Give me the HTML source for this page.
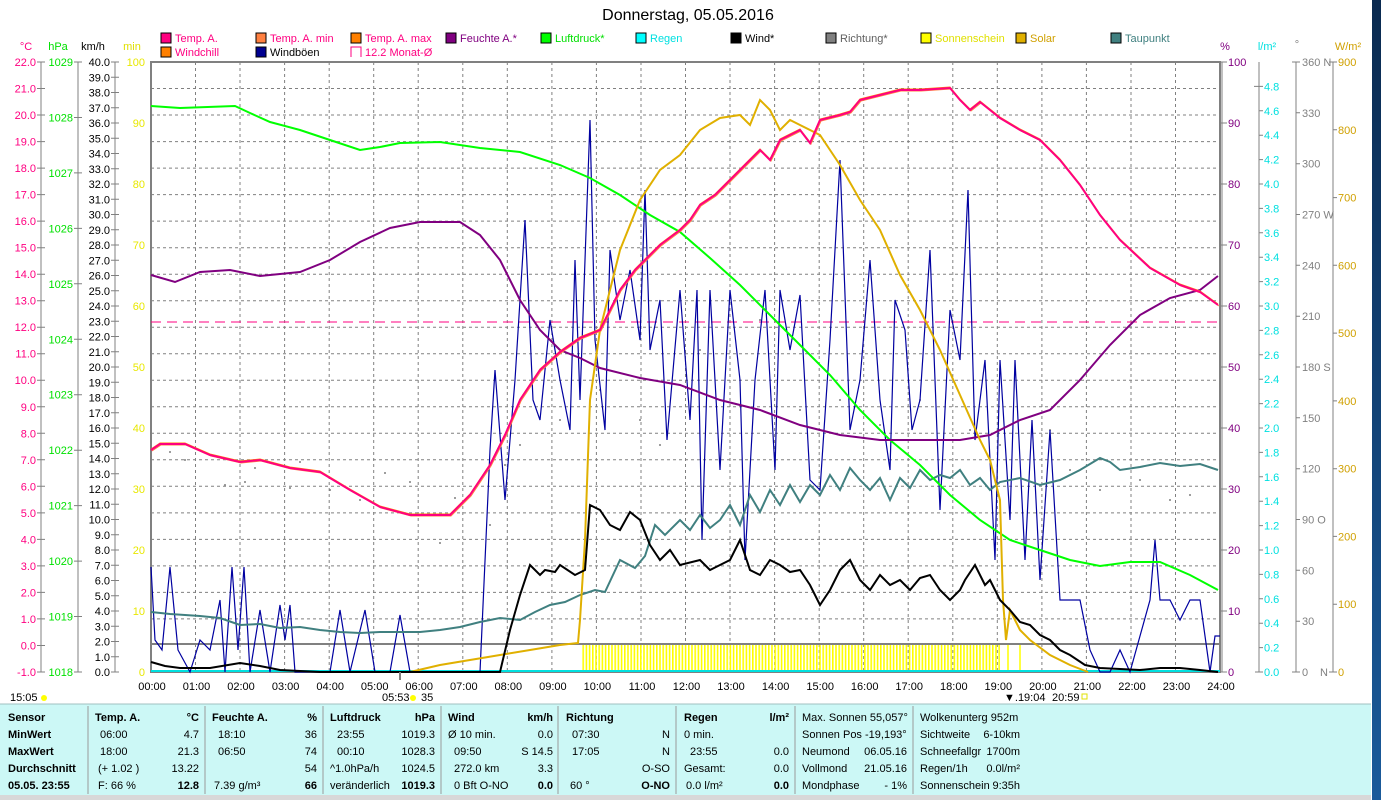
<!DOCTYPE html>
<html><head><meta charset="utf-8"><style>
html,body{margin:0;padding:0;background:#fff;width:1381px;height:800px;overflow:hidden}
svg{display:block;font-family:"Liberation Sans Narrow","Liberation Sans",sans-serif;font-size:11px}
</style></head><body>
<svg width="1381" height="800" viewBox="0 0 1381 800" xmlns="http://www.w3.org/2000/svg">
<defs>
<linearGradient id="bg" x1="0" y1="0" x2="0" y2="1"><stop offset="0" stop-color="#0a2a50"/><stop offset="1" stop-color="#1a5a9a"/></linearGradient>
<pattern id="sun" width="3.2" height="30" patternUnits="userSpaceOnUse"><rect x="0" y="0" width="1.6" height="30" fill="#ffff00"/></pattern>
</defs>
<rect x="0" y="0" width="1381" height="800" fill="#fff"/>
<rect x="1372" y="0" width="9" height="800" fill="url(#bg)"/>
<text x="688" y="20" font-size="16" text-anchor="middle" font-family="Liberation Sans,sans-serif">Donnerstag, 05.05.2016</text>

<!-- legend -->
<g font-size="11">
<rect x="161" y="33" width="10" height="10" fill="#ff0080" stroke="#000"/><text x="175" y="42" fill="#ff0080">Temp. A.</text>
<rect x="256" y="33" width="10" height="10" fill="#ff8040" stroke="#000"/><text x="270" y="42" fill="#ff0080">Temp. A. min</text>
<rect x="351" y="33" width="10" height="10" fill="#ff8000" stroke="#000"/><text x="365" y="42" fill="#ff0080">Temp. A. max</text>
<rect x="446" y="33" width="10" height="10" fill="#800080" stroke="#000"/><text x="460" y="42" fill="#800080">Feuchte A.*</text>
<rect x="541" y="33" width="10" height="10" fill="#00ff00" stroke="#000"/><text x="555" y="42" fill="#00e000">Luftdruck*</text>
<rect x="636" y="33" width="10" height="10" fill="#00ffff" stroke="#000"/><text x="650" y="42" fill="#00e0e0">Regen</text>
<rect x="731" y="33" width="10" height="10" fill="#000" stroke="#000"/><text x="745" y="42" fill="#000">Wind*</text>
<rect x="826" y="33" width="10" height="10" fill="#808080" stroke="#000"/><text x="840" y="42" fill="#606060">Richtung*</text>
<rect x="921" y="33" width="10" height="10" fill="#ffff00" stroke="#000"/><text x="935" y="42" fill="#e0e000">Sonnenschein</text>
<rect x="1016" y="33" width="10" height="10" fill="#e0b000" stroke="#000"/><text x="1030" y="42" fill="#d0a000">Solar</text>
<rect x="1111" y="33" width="10" height="10" fill="#408080" stroke="#000"/><text x="1125" y="42" fill="#408080">Taupunkt</text>
<rect x="161" y="47" width="10" height="10" fill="#ff8000" stroke="#000"/><text x="175" y="56" fill="#ff0080">Windchill</text>
<rect x="256" y="47" width="10" height="10" fill="#000090" stroke="#000"/><text x="270" y="56" fill="#000">Windböen</text>
<path d="M351 57 V47 H361 V57" fill="none" stroke="#ff0080"/><text x="365" y="56" fill="#ff0080">12.2 Monat-Ø</text>
</g>

<!-- axis headers -->
<text x="26" y="50" fill="#ff0080" text-anchor="middle">°C</text>
<text x="58" y="50" fill="#00e000" text-anchor="middle">hPa</text>
<text x="93" y="50" fill="#000" text-anchor="middle">km/h</text>
<text x="132" y="50" fill="#e0e000" text-anchor="middle">min</text>
<text x="1225" y="50" fill="#800080" text-anchor="middle">%</text>
<text x="1267" y="50" fill="#00e0e0" text-anchor="middle">l/m²</text>
<text x="1297" y="48" fill="#808080" text-anchor="middle">°</text>
<text x="1348" y="50" fill="#d0a000" text-anchor="middle">W/m²</text>

<!-- left axes lines -->
<g stroke="#808080" fill="none">
<path d="M41 62V672 M78 62V672 M115 62V672 M1259 62V672 M1296 62V672 M1333 62V672"/>
</g>

<!-- grid -->
<g stroke="#808080" stroke-dasharray="3,3" stroke-width="1">
<path d="M151 88.5H1220M151 115H1220M151 141.6H1220M151 168.1H1220M151 194.6H1220M151 221.1H1220M151 247.7H1220M151 274.2H1220M151 300.7H1220M151 327.2H1220M151 353.7H1220M151 380.2H1220M151 406.8H1220M151 433.3H1220M151 459.8H1220M151 486.3H1220M151 512.9H1220M151 539.4H1220M151 565.9H1220M151 592.4H1220M151 618.9H1220"/>
<path d="M195.5 62V672M240 62V672M284.6 62V672M329.2 62V672M373.7 62V672M418.2 62V672M462.8 62V672M507.3 62V672M551.9 62V672M596.4 62V672M641 62V672M685.5 62V672M730 62V672M774.6 62V672M819.2 62V672M863.7 62V672M908.2 62V672M952.8 62V672M997.3 62V672M1041.9 62V672M1086.4 62V672M1131 62V672M1175.5 62V672"/>
</g>
<rect x="151" y="62" width="1069" height="610" fill="none" stroke="#808080" stroke-width="2"/>
<line x1="1222" y1="62" x2="1222" y2="672" stroke="#808080" stroke-width="1"/>

<!-- °C labels -->
<g fill="#ff0080" text-anchor="end">
<text x="36" y="66">22.0</text><text x="36" y="92.5">21.0</text><text x="36" y="119">20.0</text><text x="36" y="145.6">19.0</text><text x="36" y="172.1">18.0</text><text x="36" y="198.6">17.0</text><text x="36" y="225.1">16.0</text><text x="36" y="251.7">15.0</text><text x="36" y="278.2">14.0</text><text x="36" y="304.7">13.0</text><text x="36" y="331.2">12.0</text><text x="36" y="357.7">11.0</text><text x="36" y="384.2">10.0</text><text x="36" y="410.8">9.0</text><text x="36" y="437.3">8.0</text><text x="36" y="463.8">7.0</text><text x="36" y="490.3">6.0</text><text x="36" y="516.9">5.0</text><text x="36" y="543.4">4.0</text><text x="36" y="569.9">3.0</text><text x="36" y="596.4">2.0</text><text x="36" y="622.9">1.0</text><text x="36" y="649.5">0.0</text><text x="36" y="676">-1.0</text>
</g>
<g stroke="#808080"><path d="M37 62h8M37 88.5h8M37 115h8M37 141.6h8M37 168.1h8M37 194.6h8M37 221.1h8M37 247.7h8M37 274.2h8M37 300.7h8M37 327.2h8M37 353.7h8M37 380.2h8M37 406.8h8M37 433.3h8M37 459.8h8M37 486.3h8M37 512.9h8M37 539.4h8M37 565.9h8M37 592.4h8M37 618.9h8M37 645.5h8M37 672h8"/></g>
<!-- hPa -->
<g fill="#00e000" text-anchor="end">
<text x="73" y="66">1029</text><text x="73" y="121.5">1028</text><text x="73" y="176.9">1027</text><text x="73" y="232.4">1026</text><text x="73" y="287.8">1025</text><text x="73" y="343.3">1024</text><text x="73" y="398.7">1023</text><text x="73" y="454.2">1022</text><text x="73" y="509.6">1021</text><text x="73" y="565.1">1020</text><text x="73" y="620.5">1019</text><text x="73" y="676">1018</text>
</g>
<g stroke="#808080"><path d="M74 62h8M74 117.5h8M74 172.9h8M74 228.4h8M74 283.8h8M74 339.3h8M74 394.7h8M74 450.2h8M74 505.6h8M74 561.1h8M74 616.5h8M74 672h8"/></g>
<!-- km/h -->
<g fill="#000" text-anchor="end">
<text x="110" y="66">40.0</text><text x="110" y="81.3">39.0</text><text x="110" y="96.5">38.0</text><text x="110" y="111.8">37.0</text><text x="110" y="127">36.0</text><text x="110" y="142.3">35.0</text><text x="110" y="157.5">34.0</text><text x="110" y="172.8">33.0</text><text x="110" y="188">32.0</text><text x="110" y="203.3">31.0</text><text x="110" y="218.5">30.0</text><text x="110" y="233.8">29.0</text><text x="110" y="249">28.0</text><text x="110" y="264.3">27.0</text><text x="110" y="279.5">26.0</text><text x="110" y="294.8">25.0</text><text x="110" y="310">24.0</text><text x="110" y="325.3">23.0</text><text x="110" y="340.5">22.0</text><text x="110" y="355.8">21.0</text><text x="110" y="371">20.0</text><text x="110" y="386.3">19.0</text><text x="110" y="401.5">18.0</text><text x="110" y="416.8">17.0</text><text x="110" y="432">16.0</text><text x="110" y="447.3">15.0</text><text x="110" y="462.5">14.0</text><text x="110" y="477.8">13.0</text><text x="110" y="493">12.0</text><text x="110" y="508.3">11.0</text><text x="110" y="523.5">10.0</text><text x="110" y="538.8">9.0</text><text x="110" y="554">8.0</text><text x="110" y="569.3">7.0</text><text x="110" y="584.5">6.0</text><text x="110" y="599.8">5.0</text><text x="110" y="615">4.0</text><text x="110" y="630.3">3.0</text><text x="110" y="645.5">2.0</text><text x="110" y="660.8">1.0</text><text x="110" y="676">0.0</text>
</g>
<g stroke="#808080"><path d="M111 62h8M111 77.3h8M111 92.5h8M111 107.8h8M111 123h8M111 138.3h8M111 153.5h8M111 168.8h8M111 184h8M111 199.3h8M111 214.5h8M111 229.8h8M111 245h8M111 260.3h8M111 275.5h8M111 290.8h8M111 306h8M111 321.3h8M111 336.5h8M111 351.8h8M111 367h8M111 382.3h8M111 397.5h8M111 412.8h8M111 428h8M111 443.3h8M111 458.5h8M111 473.8h8M111 489h8M111 504.3h8M111 519.5h8M111 534.8h8M111 550h8M111 565.3h8M111 580.5h8M111 595.8h8M111 611h8M111 626.3h8M111 641.5h8M111 656.8h8M111 672h8"/></g>
<!-- min -->
<g fill="#e8e800" text-anchor="end">
<text x="145" y="66">100</text><text x="145" y="127">90</text><text x="145" y="188">80</text><text x="145" y="249">70</text><text x="145" y="310">60</text><text x="145" y="371">50</text><text x="145" y="432">40</text><text x="145" y="493">30</text><text x="145" y="554">20</text><text x="145" y="615">10</text><text x="145" y="676">0</text>
</g>
<!-- % -->
<g fill="#800080">
<text x="1228" y="66">100</text><text x="1228" y="127">90</text><text x="1228" y="188">80</text><text x="1228" y="249">70</text><text x="1228" y="310">60</text><text x="1228" y="371">50</text><text x="1228" y="432">40</text><text x="1228" y="493">30</text><text x="1228" y="554">20</text><text x="1228" y="615">10</text><text x="1228" y="676">0</text>
</g>
<g stroke="#808080"><path d="M1220 62h7M1220 123h7M1220 184h7M1220 245h7M1220 306h7M1220 367h7M1220 428h7M1220 489h7M1220 550h7M1220 611h7M1220 672h7"/></g>
<!-- l/m2 -->
<g fill="#00e0e0">
<text x="1264" y="90.4">4.8</text><text x="1264" y="114.8">4.6</text><text x="1264" y="139.2">4.4</text><text x="1264" y="163.6">4.2</text><text x="1264" y="188">4.0</text><text x="1264" y="212.4">3.8</text><text x="1264" y="236.8">3.6</text><text x="1264" y="261.2">3.4</text><text x="1264" y="285.6">3.2</text><text x="1264" y="310">3.0</text><text x="1264" y="334.4">2.8</text><text x="1264" y="358.8">2.6</text><text x="1264" y="383.2">2.4</text><text x="1264" y="407.6">2.2</text><text x="1264" y="432">2.0</text><text x="1264" y="456.4">1.8</text><text x="1264" y="480.8">1.6</text><text x="1264" y="505.2">1.4</text><text x="1264" y="529.6">1.2</text><text x="1264" y="554">1.0</text><text x="1264" y="578.4">0.8</text><text x="1264" y="602.8">0.6</text><text x="1264" y="627.2">0.4</text><text x="1264" y="651.6">0.2</text><text x="1264" y="676">0.0</text>
</g>
<g stroke="#808080"><path d="M1254 86.4h9M1259 110.8h4M1259 135.2h4M1259 159.6h4M1259 184h4M1259 208.4h4M1259 232.8h4M1259 257.2h4M1259 281.6h4M1259 306h4M1259 330.4h4M1259 354.8h4M1259 379.2h4M1259 403.6h4M1259 428h4M1259 452.4h4M1259 476.8h4M1259 501.2h4M1259 525.6h4M1259 550h4M1259 574.4h4M1259 598.8h4M1259 623.2h4M1259 647.6h4M1255 672h8"/></g>
<!-- degrees -->
<g fill="#808080">
<text x="1302" y="66">360 N</text><text x="1302" y="116.8">330</text><text x="1302" y="167.7">300</text><text x="1302" y="218.5">270 W</text><text x="1302" y="269.3">240</text><text x="1302" y="320.2">210</text><text x="1302" y="371">180 S</text><text x="1302" y="421.8">150</text><text x="1302" y="472.7">120</text><text x="1302" y="523.5">90 O</text><text x="1302" y="574.3">60</text><text x="1302" y="625.2">30</text><text x="1302" y="676">0</text><text x="1320" y="676">N</text>
</g>
<g stroke="#808080"><path d="M1292 62h8M1296 112.8h4M1296 163.7h4M1296 214.5h4M1296 265.3h4M1296 316.2h4M1296 367h4M1296 417.8h4M1296 468.7h4M1296 519.5h4M1296 570.3h4M1296 621.2h4M1292 672h8"/></g>
<!-- W/m2 -->
<g fill="#d0a000">
<text x="1338" y="66">900</text><text x="1338" y="133.8">800</text><text x="1338" y="201.6">700</text><text x="1338" y="269.3">600</text><text x="1338" y="337.1">500</text><text x="1338" y="404.9">400</text><text x="1338" y="472.7">300</text><text x="1338" y="540.4">200</text><text x="1338" y="608.2">100</text><text x="1338" y="676">0</text>
</g>
<g stroke="#808080"><path d="M1329 62h8M1333 129.8h4M1333 197.6h4M1333 265.3h4M1333 333.1h4M1333 400.9h4M1333 468.7h4M1333 536.4h4M1333 604.2h4M1329 672h8"/></g>

<!-- plot contents -->
<rect x="582" y="645" width="418" height="27" fill="url(#sun)"/>
<path d="M1008 645V672M1020 645V672" stroke="#ffff00" stroke-width="1.5"/>
<line x1="151" y1="644" x2="1220" y2="644" stroke="#808080" stroke-width="2"/>
<line x1="151" y1="322" x2="1220" y2="322" stroke="#ff0080" stroke-dasharray="10,6"/>
<line x1="151" y1="671" x2="1220" y2="671" stroke="#00e0e0" stroke-width="2"/>

<!-- direction dots -->
<g fill="#808080">
<circle cx="170" cy="452" r="1"/><circle cx="185" cy="460" r="1"/><circle cx="225" cy="485" r="1"/><circle cx="245" cy="482" r="1"/><circle cx="255" cy="468" r="1"/><circle cx="290" cy="488" r="1"/><circle cx="300" cy="462" r="1"/><circle cx="330" cy="490" r="1"/><circle cx="360" cy="500" r="1"/><circle cx="385" cy="473" r="1"/><circle cx="410" cy="482" r="1"/><circle cx="440" cy="543" r="1"/><circle cx="455" cy="498" r="1"/><circle cx="490" cy="525" r="1"/><circle cx="505" cy="465" r="1"/><circle cx="520" cy="445" r="1"/><circle cx="560" cy="420" r="1"/><circle cx="600" cy="390" r="1"/><circle cx="640" cy="420" r="1"/><circle cx="660" cy="445" r="1"/><circle cx="700" cy="350" r="1"/><circle cx="760" cy="320" r="1"/><circle cx="800" cy="410" r="1"/><circle cx="840" cy="400" r="1"/><circle cx="880" cy="425" r="1"/><circle cx="920" cy="400" r="1"/><circle cx="970" cy="430" r="1"/><circle cx="1000" cy="445" r="1"/><circle cx="1050" cy="430" r="1"/><circle cx="1070" cy="470" r="1"/><circle cx="1100" cy="490" r="1"/><circle cx="1140" cy="480" r="1"/><circle cx="1170" cy="500" r="1"/><circle cx="1190" cy="495" r="1"/>
</g>

<!-- Windböen -->
<polyline fill="none" stroke="#0000a0" stroke-width="1.2" points="151,567 155,640 162,650 170,567 178,650 190,672 200,640 210,650 220,600 225,672 232,567 238,650 244,567 250,672 260,610 270,672 280,605 285,640 290,605 295,672 330,672 340,610 350,672 365,610 375,672 390,672 400,615 410,672 480,672 490,450 495,370 505,500 515,380 525,220 533,400 540,420 550,320 560,380 570,430 575,260 580,400 590,120 595,340 605,430 610,250 620,320 630,270 640,340 645,190 650,350 660,300 667,440 680,290 690,420 697,290 702,540 710,290 720,470 730,290 740,380 745,560 755,380 765,290 775,470 780,290 790,350 800,295 810,480 820,490 830,340 840,160 850,430 860,380 870,260 880,400 890,470 895,300 905,330 912,430 920,400 930,250 940,510 950,310 960,360 968,190 975,440 985,360 995,560 1000,360 1010,520 1015,360 1025,560 1032,420 1040,580 1050,430 1060,600 1070,600 1080,600 1090,650 1100,672 1110,672 1120,650 1130,672 1150,600 1155,540 1160,600 1170,600 1180,620 1190,600 1200,600 1210,672 1215,636 1220,636"/>
<!-- Taupunkt -->
<polyline fill="none" stroke="#408080" stroke-width="2" points="151,612 170,614 185,615 200,616 220,618 240,625 260,624 280,628 300,627 320,630 340,632 360,633 380,632 400,632 420,632 440,630 460,627 480,622 500,618 520,620 535,612 550,605 565,602 580,595 595,590 605,592 620,560 635,568 645,556 655,525 665,535 680,520 690,530 700,515 710,528 720,520 730,505 740,525 750,495 760,512 770,490 780,505 790,485 800,502 810,485 820,495 830,475 840,490 850,468 860,480 870,490 880,478 890,500 900,478 910,488 920,470 930,480 940,475 950,478 960,470 970,485 980,478 990,490 1000,482 1020,478 1040,485 1060,480 1080,470 1100,458 1110,462 1120,470 1140,467 1160,463 1180,466 1200,464 1218,470"/>
<!-- Luftdruck -->
<polyline fill="none" stroke="#00ff00" stroke-width="2" points="151,106 180,108 235,106 250,113 270,122 300,130 330,140 360,150 380,147 400,143 440,142 480,148 520,152 560,165 590,178 620,195 650,215 680,232 710,258 740,285 770,315 800,345 830,375 860,410 890,440 920,465 950,495 980,520 1010,540 1040,550 1070,560 1100,566 1130,562 1160,562 1190,575 1218,590"/>
<!-- Feuchte -->
<polyline fill="none" stroke="#800080" stroke-width="2" points="151,275 175,282 200,272 230,270 260,276 300,272 330,260 360,242 390,228 420,222 460,222 480,235 500,260 520,300 540,330 560,350 580,358 600,368 640,378 680,385 720,400 760,410 800,425 840,435 880,440 920,440 960,440 990,435 1020,420 1050,410 1080,380 1110,345 1140,315 1170,298 1200,290 1218,276"/>
<!-- Solar -->
<polyline fill="none" stroke="#e0b000" stroke-width="2" points="410,672 440,665 470,660 500,655 530,650 560,645 578,643 580,620 585,540 590,400 600,330 620,250 640,200 660,170 680,155 700,130 720,118 740,115 750,125 760,100 770,110 780,130 790,120 800,125 820,135 840,165 860,200 870,215 880,230 900,275 920,310 940,350 960,395 980,440 990,460 1000,500 1003,600 1006,640 1010,610 1015,620 1020,630 1030,640 1050,655 1070,665 1088,672"/>
<!-- Temp max / min -->
<polyline fill="none" stroke="#ff8040" stroke-width="1" transform="translate(1,1)" points="151,450 160,444 185,444 210,455 240,462 260,460 290,468 320,472 350,490 380,507 410,515 450,515 470,495 490,465 505,435 520,400 540,370 560,352 580,338 600,330 620,290 635,270 660,245 680,230 690,220 700,205 715,195 730,180 745,165 760,150 770,160 780,140 790,135 800,130 810,143 820,120 840,115 850,112 860,100 880,95 900,90 920,90 950,88 960,100 970,110 980,102 990,110 1000,118 1020,130 1040,140 1060,160 1080,185 1100,215 1120,240 1150,268 1180,285 1200,292 1218,305"/>
<polyline fill="none" stroke="#ff8000" stroke-width="1" transform="translate(0,-1)" points="151,450 160,444 185,444 210,455 240,462 260,460 290,468 320,472 350,490 380,507 410,515 450,515 470,495 490,465 505,435 510,425 515,415 520,400 540,370 560,352 580,338 600,330 620,290 635,270 660,245 680,230 690,220 700,205 715,195 730,180 745,165 760,150 770,160 780,140 790,135 800,130 810,143 820,120 840,115 850,112 860,100 880,95 900,90 920,90 950,88 960,100 970,110 980,102 990,110 1000,118 1020,130 1040,140 1060,160 1080,185 1100,215 1120,240 1150,268 1180,285 1200,292 1218,305"/>
<!-- Temp -->
<polyline fill="none" stroke="#ff0080" stroke-width="2" points="151,450 160,444 185,444 210,455 240,462 260,460 290,468 320,472 350,490 380,507 410,515 450,515 470,495 490,465 505,435 520,400 540,370 560,352 580,338 600,330 620,290 635,270 660,245 680,230 690,220 700,205 715,195 730,180 745,165 760,150 770,160 780,140 790,135 800,130 810,143 820,120 840,115 850,112 860,100 880,95 900,90 920,90 950,88 960,100 970,110 980,102 990,110 1000,118 1020,130 1040,140 1060,160 1080,185 1100,215 1120,240 1150,268 1180,285 1200,292 1218,305"/>
<!-- Wind -->
<polyline fill="none" stroke="#000" stroke-width="2" points="151,662 165,666 180,668 210,668 240,663 260,666 280,670 320,672 400,672 500,672 510,630 520,595 530,565 540,575 545,570 555,572 560,565 575,575 585,570 590,505 600,510 610,525 620,530 630,512 640,520 650,545 660,560 670,550 680,565 700,560 710,570 720,565 730,560 740,540 750,570 760,575 770,560 780,565 790,572 800,570 810,585 820,605 830,590 840,570 850,560 860,580 870,590 880,575 890,585 900,580 910,590 920,578 930,575 940,590 950,600 960,590 965,580 975,565 985,585 990,580 1000,600 1010,610 1020,622 1030,625 1040,635 1050,640 1060,650 1070,655 1085,665 1100,668 1140,670 1160,668 1180,668 1200,670 1218,672"/>

<!-- x labels -->
<g fill="#000" text-anchor="middle">
<text x="152" y="690">00:00</text><text x="196.5" y="690">01:00</text><text x="241" y="690">02:00</text><text x="285.6" y="690">03:00</text><text x="330.2" y="690">04:00</text><text x="374.7" y="690">05:00</text><text x="419.2" y="690">06:00</text><text x="463.8" y="690">07:00</text><text x="508.3" y="690">08:00</text><text x="552.9" y="690">09:00</text><text x="597.4" y="690">10:00</text><text x="642" y="690">11:00</text><text x="686.5" y="690">12:00</text><text x="731" y="690">13:00</text><text x="775.6" y="690">14:00</text><text x="820.2" y="690">15:00</text><text x="864.7" y="690">16:00</text><text x="909.2" y="690">17:00</text><text x="953.8" y="690">18:00</text><text x="998.3" y="690">19:00</text><text x="1042.9" y="690">20:00</text><text x="1087.4" y="690">21:00</text><text x="1132" y="690">22:00</text><text x="1176.5" y="690">23:00</text><text x="1221" y="690">24:00</text>
</g>
<text x="10" y="701">15:05</text><circle cx="44" cy="698" r="3" fill="#ffff00"/>
<text x="382" y="701">05:53</text><circle cx="413" cy="698" r="3" fill="#ffff00"/><text x="421" y="701">35</text>
<line x1="400" y1="672" x2="400" y2="680" stroke="#808080" stroke-width="2"/>
<text x="1004" y="701">▼.19:04</text><text x="1052" y="701">20:59</text><rect x="1082" y="694" width="5" height="5" fill="none" stroke="#e0e000"/>

<!-- table -->
<rect x="0" y="704" width="1371" height="92" fill="#ccf8f6"/>
<line x1="0" y1="704" x2="1371" y2="704" stroke="#a0c0c0"/>
<rect x="0" y="795" width="1371" height="5" fill="#d8d8d8"/>
<g stroke="#9a9a9a"><path d="M88 706V794M205 706V794M323 706V794M441 706V794M558 706V794M676 706V794M795 706V794M913 706V794"/></g>
<g font-size="11" fill="#000">
<g font-weight="bold"><text x="8" y="721">Sensor</text><text x="8" y="738">MinWert</text><text x="8" y="755">MaxWert</text><text x="8" y="772">Durchschnitt</text><text x="8" y="789">05.05. 23:55</text></g>
<text x="95" y="721" font-weight="bold">Temp. A.</text><text x="199" y="721" text-anchor="end" font-weight="bold">°C</text>
<text x="100" y="738">06:00</text><text x="199" y="738" text-anchor="end">4.7</text>
<text x="100" y="755">18:00</text><text x="199" y="755" text-anchor="end">21.3</text>
<text x="98" y="772">(+ 1.02 )</text><text x="199" y="772" text-anchor="end">13.22</text>
<text x="98" y="789">F: 66 %</text><text x="199" y="789" text-anchor="end" font-weight="bold">12.8</text>
<text x="212" y="721" font-weight="bold">Feuchte A.</text><text x="317" y="721" text-anchor="end" font-weight="bold">%</text>
<text x="218" y="738">18:10</text><text x="317" y="738" text-anchor="end">36</text>
<text x="218" y="755">06:50</text><text x="317" y="755" text-anchor="end">74</text>
<text x="317" y="772" text-anchor="end">54</text>
<text x="214" y="789">7.39 g/m³</text><text x="317" y="789" text-anchor="end" font-weight="bold">66</text>
<text x="330" y="721" font-weight="bold">Luftdruck</text><text x="435" y="721" text-anchor="end" font-weight="bold">hPa</text>
<text x="337" y="738">23:55</text><text x="435" y="738" text-anchor="end">1019.3</text>
<text x="337" y="755">00:10</text><text x="435" y="755" text-anchor="end">1028.3</text>
<text x="330" y="772">^1.0hPa/h</text><text x="435" y="772" text-anchor="end">1024.5</text>
<text x="330" y="789">veränderlich</text><text x="435" y="789" text-anchor="end" font-weight="bold">1019.3</text>
<text x="448" y="721" font-weight="bold">Wind</text><text x="553" y="721" text-anchor="end" font-weight="bold">km/h</text>
<text x="448" y="738">Ø 10 min.</text><text x="553" y="738" text-anchor="end">0.0</text>
<text x="454" y="755">09:50</text><text x="553" y="755" text-anchor="end">S 14.5</text>
<text x="454" y="772">272.0 km</text><text x="553" y="772" text-anchor="end">3.3</text>
<text x="454" y="789">0 Bft O-NO</text><text x="553" y="789" text-anchor="end" font-weight="bold">0.0</text>
<text x="566" y="721" font-weight="bold">Richtung</text>
<text x="572" y="738">07:30</text><text x="670" y="738" text-anchor="end">N</text>
<text x="572" y="755">17:05</text><text x="670" y="755" text-anchor="end">N</text>
<text x="670" y="772" text-anchor="end">O-SO</text>
<text x="570" y="789">60 °</text><text x="670" y="789" text-anchor="end" font-weight="bold">O-NO</text>
<text x="684" y="721" font-weight="bold">Regen</text><text x="789" y="721" text-anchor="end" font-weight="bold">l/m²</text>
<text x="684" y="738">0 min.</text>
<text x="690" y="755">23:55</text><text x="789" y="755" text-anchor="end">0.0</text>
<text x="684" y="772">Gesamt:</text><text x="789" y="772" text-anchor="end">0.0</text>
<text x="686" y="789">0.0 l/m²</text><text x="789" y="789" text-anchor="end" font-weight="bold">0.0</text>
<text x="802" y="721">Max. Sonnen 55,057°</text>
<text x="802" y="738">Sonnen Pos  -19,193°</text>
<text x="802" y="755">Neumond</text><text x="907" y="755" text-anchor="end">06.05.16</text>
<text x="802" y="772">Vollmond</text><text x="907" y="772" text-anchor="end">21.05.16</text>
<text x="802" y="789">Mondphase</text><text x="907" y="789" text-anchor="end">- 1%</text>
<text x="920" y="721">Wolkenunterg   952m</text>
<text x="920" y="738">Sichtweite</text><text x="1020" y="738" text-anchor="end">6-10km</text>
<text x="920" y="755">Schneefallgr</text><text x="1020" y="755" text-anchor="end">1700m</text>
<text x="920" y="772">Regen/1h</text><text x="1020" y="772" text-anchor="end">0.0l/m²</text>
<text x="920" y="789">Sonnenschein</text><text x="1020" y="789" text-anchor="end">9:35h</text>
</g>
</svg>
</body></html>
